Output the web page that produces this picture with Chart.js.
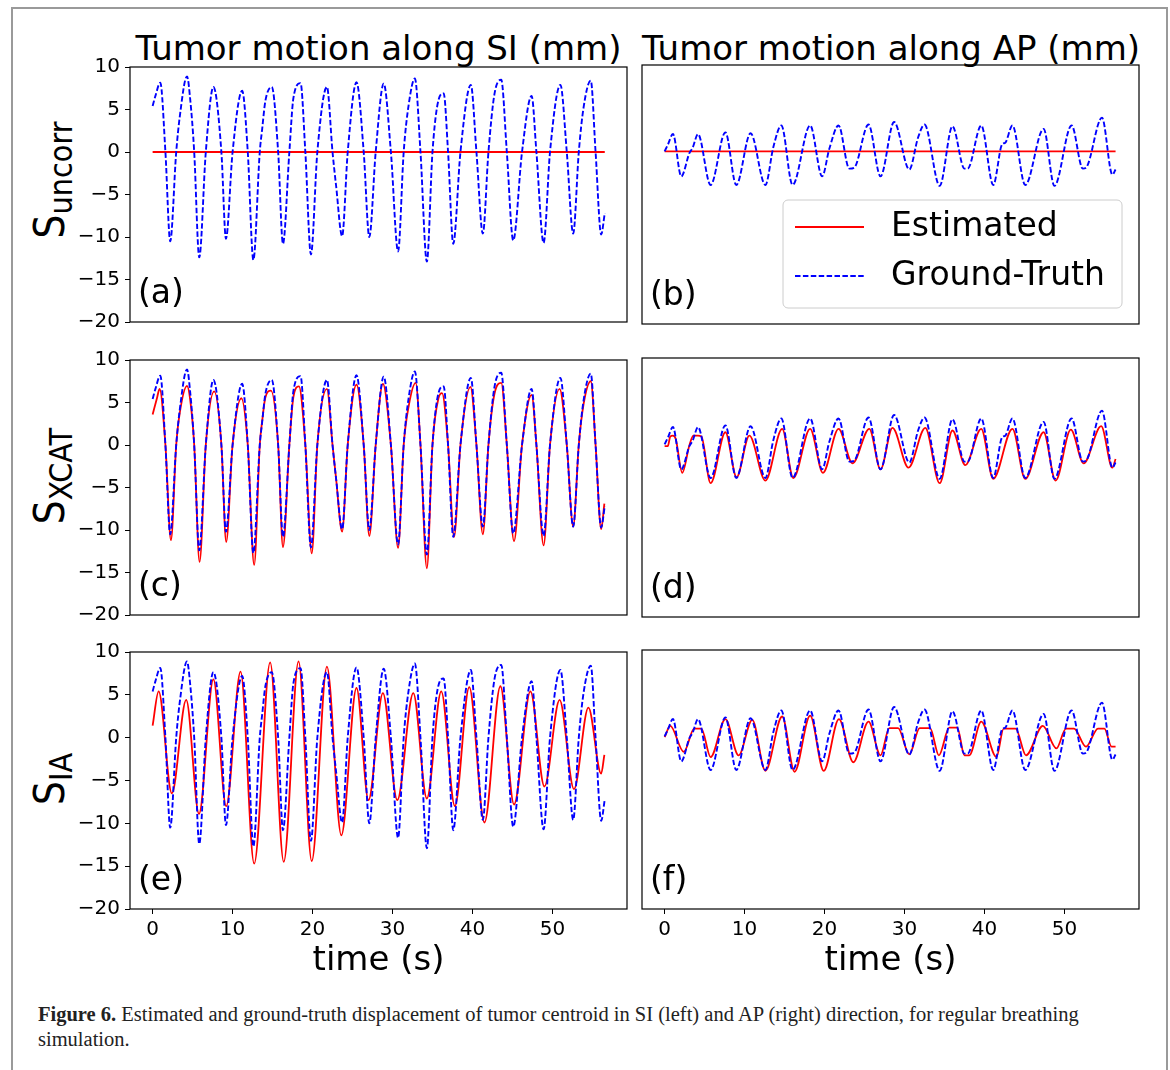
<!DOCTYPE html>
<html>
<head>
<meta charset="utf-8">
<script src="https://cdn.jsdelivr.net/npm/chart.js@4.4.0/dist/chart.umd.min.js"></script>
<style>
  body { margin: 0; background: #fff; width: 1170px; height: 1070px; position: relative; overflow: hidden; }
  #frame { position: absolute; left: 11px; top: 7px; width: 1153px; height: 1100px; border: 2px solid #9a9a9a; }
  .panel { position: absolute; }
  .ttl { position: absolute; width: 497px; text-align: center; font: 34px "DejaVu Sans"; line-height: 40px; color: #000; white-space: nowrap; }
  .ylab { position: absolute; width: 240px; height: 50px; line-height: 50px; text-align: center; transform: rotate(-90deg);
          font-family: "DejaVu Sans Condensed", "Liberation Sans Narrow", "DejaVu Sans"; font-size: 42px; color: #000; white-space: nowrap; }
  .ylab sub { font-size: 32px; vertical-align: -8px; }
  #caption { position: absolute; left: 38px; top: 1002px; font: 20.5px "Liberation Serif"; line-height: 25px; color: #222; white-space: nowrap; }
</style>
</head>
<body>
<div id="frame"></div>

<div class="ttl" style="left:130px; top:28px">Tumor motion along SI (mm)</div>
<div class="ttl" style="left:642px; top:28px">Tumor motion along AP (mm)</div>

<div class="ylab" style="left:-70px; top:155px">S<sub>uncorr</sub></div>
<div class="ylab" style="left:-70px; top:451px">S<sub>XCAT</sub></div>
<div class="ylab" style="left:-70px; top:754px">S<sub>IA</sub></div>

<div id="caption"><b>Figure 6.</b> Estimated and ground-truth displacement of tumor centroid in SI (left) and AP (right) direction, for regular breathing<br>simulation.</div>

<script>
// tiempo (s), desplazamiento (mm)
const siGroundTruth = [[0,5.4],[0.35,6.6],[0.96,8.15],[1.6,0],[2.2,-10.5],[2.95,0],[3.4,4.2],[4.3,8.9],[4.7,6.2],[5.2,0],[5.83,-12.4],[6.65,0],[7.6,7.65],[8.6,0],[9.17,-10.2],[10.0,0],[11.2,7.2],[11.9,0],[12.6,-12.7],[13.4,0],[13.7,2.7],[14.1,6.0],[14.9,7.65],[15.7,0],[16.3,-10.8],[17.1,0],[17.6,6.3],[18.5,8.1],[19.1,0],[19.8,-12.05],[20.6,0],[21.8,7.65],[22.5,0],[22.95,-4.0],[23.7,-9.9],[24.4,0],[25.5,8.2],[26.4,0],[27.1,-10.0],[27.9,0],[28.9,8.05],[29.8,0],[30.7,-11.7],[31.4,0],[32.0,5.4],[32.8,8.65],[33.5,0],[34.3,-12.9],[35.0,0],[35.75,6.1],[36.4,6.9],[36.95,0],[37.6,-10.8],[38.5,0],[39.8,7.9],[40.5,0],[41.3,-9.6],[42.0,0],[42.75,6.8],[43.6,8.5],[44.3,0],[45.1,-10.4],[46.2,0],[47.4,6.6],[48.0,0],[48.9,-10.7],[49.7,0],[51.0,7.9],[51.8,0],[52.6,-9.6],[53.3,0],[53.9,5.25],[54.8,8.4],[55.4,0],[56.1,-9.7],[56.55,-7.2]];
const siUncorr = [[0,0],[56.55,0]];
const siXcat = [[0,3.6],[0.54,5.5],[0.87,6.6],[1.6,0],[2.29,-11.2],[2.95,0],[3.4,3.8],[4.3,6.95],[4.7,5.3],[5.2,0],[5.87,-13.75],[6.65,0],[7.7,6.3],[8.6,0],[9.2,-11.4],[10.0,0],[11.1,5.5],[11.9,0],[12.7,-14.1],[13.4,0],[13.7,2.8],[14.1,5.6],[14.8,6.4],[15.7,0],[16.3,-12.0],[17.1,0],[17.6,5.6],[18.3,6.9],[19.1,0],[19.9,-12.75],[20.6,0],[21.8,6.6],[22.5,0],[22.95,-4.0],[23.7,-10.2],[24.4,0],[25.5,7.1],[26.4,0],[27.1,-10.7],[27.9,0],[28.8,7.2],[29.8,0],[30.7,-12.1],[31.4,0],[32.05,4.7],[32.9,7.3],[33.5,0],[34.3,-14.5],[35.0,0],[35.75,5.5],[36.2,6.1],[36.95,0],[37.7,-10.8],[38.5,0],[39.75,6.85],[40.5,0],[41.3,-10.5],[42.0,0],[42.75,6.0],[43.6,7.3],[44.3,0],[45.2,-11.3],[46.2,0],[47.4,5.9],[48.0,0],[48.9,-11.8],[49.7,0],[50.9,6.6],[51.8,0],[52.6,-9.6],[53.3,0],[53.9,4.8],[54.8,7.5],[55.4,0],[56.1,-9.9],[56.5,-6.9]];
const siIA = [[0,1.4],[0.75,5.4],[2.4,-6.5],[4.2,4.4],[5.8,-8.9],[7.6,6.8],[9.2,-8.0],[11.0,7.7],[12.7,-14.7],[14.7,8.8],[16.4,-14.5],[18.25,8.9],[19.9,-14.4],[21.8,8.3],[23.6,-11.4],[25.5,5.8],[27.0,-7.3],[28.8,5.2],[30.6,-7.3],[32.6,5.2],[34.3,-7.1],[36.1,5.4],[37.8,-8.0],[39.6,5.9],[41.5,-9.9],[43.5,6.0],[45.2,-7.8],[47.25,5.4],[49.0,-5.7],[50.9,4.4],[52.7,-6.0],[54.5,3.5],[56.1,-4.2],[56.5,-2.0]];

const apGroundTruth = [[0,0],[0.42,0.8],[1.04,2.0],[2.08,-2.9],[3.1,-0.2],[3.5,0.4],[4.17,2.0],[5.75,-3.9],[7.6,2.2],[8.96,-3.9],[10.75,2.1],[12.6,-3.9],[13.6,0.5],[14.6,3.0],[16.0,-3.9],[18.2,3.0],[19.7,-2.9],[20.6,0.3],[21.75,3.0],[23.1,-2.0],[23.7,-1.9],[25.5,3.1],[27.0,-2.9],[28.7,3.4],[30.6,-2.1],[31.7,1.6],[32.5,3.1],[34.4,-4.0],[36.0,2.9],[37.5,-2.0],[37.9,-2.0],[39.6,3.0],[41.1,-3.9],[42.2,0.8],[42.6,1.0],[43.5,3.0],[45.1,-3.9],[47.4,2.6],[48.75,-4.0],[50.9,3.0],[52.3,-2.0],[52.7,-1.9],[54.7,3.9],[56.0,-2.7],[56.4,-2.1]];
const apUncorr = [[0,0],[56.4,0]];
const apXcat = [[0,-0.2],[0.4,-0.2],[0.7,0.9],[1.04,1.0],[1.4,0.6],[2.2,-3.3],[3.1,-0.1],[3.6,1.0],[4.17,1.0],[4.6,0.9],[5.75,-4.5],[7.6,1.4],[9.0,-3.8],[10.6,1.0],[12.6,-4.2],[14.7,1.8],[16.1,-3.9],[18.2,1.8],[19.8,-3.3],[21.75,1.8],[23.5,-2.2],[25.6,1.8],[27.0,-2.9],[28.5,1.9],[30.5,-2.7],[32.6,1.9],[34.4,-4.5],[36.0,1.6],[37.6,-2.4],[39.6,1.8],[41.1,-4.0],[43.5,1.8],[45.1,-4.0],[47.4,1.4],[48.9,-4.2],[50.8,1.7],[52.4,-2.2],[54.6,2.1],[56.0,-2.7],[56.4,-1.7]];
const apIA = [[0,-0.1],[0.7,1.2],[2.4,-1.8],[3.7,0.9],[4.6,0.9],[5.75,-2.4],[7.6,2.0],[9.25,-2.2],[10.96,1.9],[12.6,-4.0],[14.7,2.3],[16.25,-4.1],[18.2,2.4],[19.9,-4.0],[21.8,2.0],[23.6,-3.0],[25.5,1.7],[27.0,-2.2],[28.1,0.95],[29.2,0.95],[30.6,-2.1],[31.9,0.95],[33.2,0.95],[34.3,-2.2],[35.6,1.0],[36.6,1.0],[37.5,-2.2],[38.1,-2.2],[39.6,1.7],[41.5,-2.4],[42.4,0.9],[43.9,0.9],[45.2,-2.2],[47.3,1.2],[49.0,-1.4],[50.2,0.9],[51.2,0.9],[52.7,-1.2],[54.2,0.9],[55.0,0.9],[55.9,-1.2],[56.4,-1.2]];

const timeTicks = [0, 10, 20, 30, 40, 50];
const mmTicks = [-20, -15, -10, -5, 0, 5, 10];

const colLeft = [130, 642];
const rowTop = [65, 357.5, 650];
const plotW = 497, plotH = 259;
const FONT = "DejaVu Sans";

const panels = [
  { letter: "(a)", row: 0, col: 0, est: siUncorr, gt: siGroundTruth },
  { letter: "(b)", row: 0, col: 1, est: apUncorr, gt: apGroundTruth, legend: true },
  { letter: "(c)", row: 1, col: 0, est: siXcat, gt: siGroundTruth },
  { letter: "(d)", row: 1, col: 1, est: apXcat, gt: apGroundTruth },
  { letter: "(e)", row: 2, col: 0, est: siIA, gt: siGroundTruth },
  { letter: "(f)", row: 2, col: 1, est: apIA, gt: apGroundTruth },
];

// caja completa del eje, letra del panel y leyenda
const boxPlugin = {
  id: "boxPlugin",
  afterDatasetsDraw(chart, args, opts) {
    const { ctx, chartArea: a } = chart;
    ctx.save();
    ctx.strokeStyle = "#000";
    ctx.lineWidth = 1.2;
    ctx.strokeRect(a.left, a.top, a.right - a.left, a.bottom - a.top);
    ctx.fillStyle = "#000";
    ctx.font = "33px " + FONT;
    ctx.textBaseline = "middle";
    ctx.textAlign = "left";
    ctx.fillText(opts.letter, a.left + 8, a.bottom - 28);
    if (opts.legend) {
      const x0 = a.right - 356, y0 = a.bottom - 124, w = 339, h = 108;
      ctx.beginPath();
      ctx.roundRect(x0, y0, w, h, 5);
      ctx.fillStyle = "rgba(255,255,255,0.8)";
      ctx.fill();
      ctx.strokeStyle = "#cccccc";
      ctx.lineWidth = 1;
      ctx.stroke();
      ctx.lineWidth = 1.8;
      ctx.strokeStyle = "#ff0000";
      ctx.beginPath(); ctx.moveTo(x0 + 12, y0 + 27); ctx.lineTo(x0 + 81, y0 + 27); ctx.stroke();
      ctx.strokeStyle = "#0000ff";
      ctx.setLineDash([5.5, 2.4]);
      ctx.beginPath(); ctx.moveTo(x0 + 12, y0 + 76); ctx.lineTo(x0 + 81, y0 + 76); ctx.stroke();
      ctx.setLineDash([]);
      ctx.fillStyle = "#000";
      ctx.fillText("Estimated", x0 + 108, y0 + 27);
      ctx.fillText("Ground-Truth", x0 + 108, y0 + 76);
    }
    ctx.restore();
  }
};

const minusFmt = v => (v < 0 ? "\u2212" + Math.abs(v) : String(v));

panels.forEach(p => {
  const padL = p.col === 0 ? 70 : 10;
  const padR = 12;
  const padT = 15;
  const bottomRow = p.row === 2;
  const padB = bottomRow ? 85 : 15;

  const wrap = document.createElement("div");
  wrap.className = "panel";
  wrap.style.left = (colLeft[p.col] - padL) + "px";
  wrap.style.top = (rowTop[p.row] - padT) + "px";
  const cv = document.createElement("canvas");
  cv.width = padL + plotW + padR;
  cv.height = padT + plotH + padB;
  wrap.appendChild(cv);
  document.body.appendChild(wrap);

  new Chart(cv, {
    type: "line",
    data: {
      datasets: [
        {
          label: "Ground-Truth",
          data: p.gt.map(d => ({ x: d[0], y: d[1] })),
          borderColor: "#0000ff",
          borderWidth: 1.9,
          borderDash: [5.5, 2.4],
          pointRadius: 0,
          cubicInterpolationMode: "monotone",
        },
        {
          label: "Estimated",
          data: p.est.map(d => ({ x: d[0], y: d[1] })),
          borderColor: "#ff0000",
          borderWidth: 1.8,
          pointRadius: 0,
          cubicInterpolationMode: "monotone",
        },
      ],
    },
    options: {
      responsive: false,
      animation: false,
      devicePixelRatio: 1,
      layout: { padding: { left: p.col === 0 ? 0 : padL, right: padR, top: padT, bottom: bottomRow ? 0 : padB } },
      plugins: {
        legend: { display: false },
        tooltip: { enabled: false },
        boxPlugin: { letter: p.letter, legend: !!p.legend },
      },
      scales: {
        x: {
          type: "linear",
          min: -2.83,
          max: 59.33,
          display: bottomRow,
          afterBuildTicks: s => { s.ticks = timeTicks.map(v => ({ value: v })); },
          afterFit: s => { if (bottomRow) s.height = padB; },
          grid: { drawOnChartArea: false, drawTicks: true, tickLength: 5, color: "#000", tickColor: "#000" },
          border: { display: false },
          ticks: { color: "#000", padding: 4, font: { family: FONT, size: 20 }, maxRotation: 0 },
          title: { display: true, text: "time (s)", color: "#000", font: { family: FONT, size: 34 }, padding: { top: 0, bottom: 12 } },
        },
        y: {
          min: -20,
          max: 10,
          display: p.col === 0,
          afterBuildTicks: s => { s.ticks = mmTicks.map(v => ({ value: v })); },
          afterFit: s => { if (p.col === 0) s.width = padL; },
          grid: { drawOnChartArea: false, drawTicks: true, tickLength: 5, color: "#000", tickColor: "#000" },
          border: { display: false },
          ticks: { color: "#000", padding: 5, font: { family: FONT, size: 20 }, callback: minusFmt },
        },
      },
    },
    plugins: [boxPlugin],
  });
});
</script>
</body>
</html>
